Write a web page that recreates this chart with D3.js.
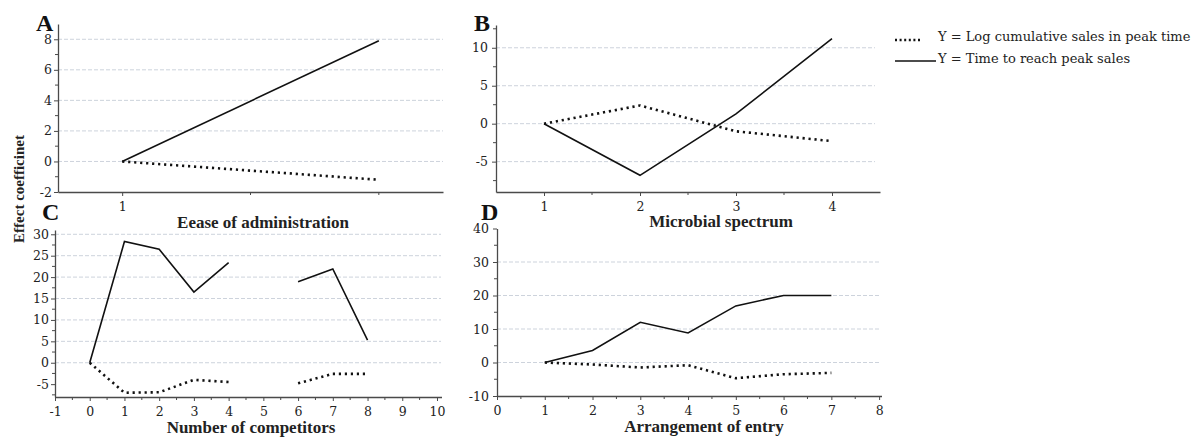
<!DOCTYPE html>
<html><head><meta charset="utf-8">
<script src="https://cdn.jsdelivr.net/npm/d3@7"></script>
<style>
body{margin:0;background:#fff;}
svg{display:block;}
</style></head>
<body>
<svg id="chart" width="1194" height="437"></svg>
<script>
// ---- data ----
const aX = [1, 2];
const aSolid = [0, 7.9];
const aDotted = [0, -1.2];
const aXTicks = [1];
const aYTicks = [-2, 0, 2, 4, 6, 8];

const bX = [1, 2, 3, 4];
const bSolid = [0, -6.8, 1.3, 11.2];
const bDotted = [0, 2.4, -1.0, -2.3];
const bXTicks = [1, 2, 3, 4];
const bYTicks = [-5, 0, 5, 10];

const cX = [0, 1, 2, 3, 4, 5, 6, 7, 8];
const cSolid = [0, 28.3, 26.5, 16.5, 23.4, null, 18.9, 21.9, 5.3];
const cDotted = [0, -7.0, -6.9, -4.0, -4.5, null, -4.8, -2.6, -2.6];
const cXTicks = [-1, 0, 1, 2, 3, 4, 5, 6, 7, 8, 9, 10];
const cYTicks = [-5, 0, 5, 10, 15, 20, 25, 30];

const dX = [1, 2, 3, 4, 5, 6, 7];
const dSolid = [0, 3.6, 12.0, 8.8, 16.9, 20.0, 20.0];
const dDotted = [0, -0.6, -1.5, -0.8, -4.7, -3.5, -3.1];
const dXTicks = [0, 1, 2, 3, 4, 5, 6, 7, 8];
const dYTicks = [-10, 0, 10, 20, 30, 40];

const seriesNames = ["Y = Log cumulative sales in peak time", "Y = Time to reach peak sales"];

const svg = d3.select("#chart");
const AXIS = "#4a4a4a";
const GRID = "#cdd3dc";
const TICKFONT = "'DejaVu Serif', serif";
const TITLEFONT = "'Liberation Serif', serif";

function panel(o) {
  const x = d3.scaleLinear().domain(o.xDomain).range(o.xRange);
  const y = d3.scaleLinear().domain(o.yDomain).range(o.yRange);
  const g = svg.append("g");
  // grid
  g.selectAll(".grid").data(o.grid).join("line")
    .attr("x1", o.xRange[0]).attr("x2", o.gridEnd)
    .attr("y1", d => y(d)).attr("y2", d => y(d))
    .attr("stroke", GRID).attr("stroke-width", 1).attr("stroke-dasharray", "4,2");
  // minor ticks
  g.selectAll(".mx").data(o.xMinor).join("line")
    .attr("x1", d => x(d)).attr("x2", d => x(d))
    .attr("y1", o.yRange[0]).attr("y2", o.yRange[0] + 3)
    .attr("stroke", AXIS);
  g.selectAll(".my").data(o.yMinor).join("line")
    .attr("y1", d => y(d)).attr("y2", d => y(d))
    .attr("x1", o.xRange[0]).attr("x2", o.xRange[0] - 3)
    .attr("stroke", AXIS);
  // axes
  const fmt = d => String(d);
  const xa = g.append("g").attr("transform", `translate(0,${o.yRange[0]})`)
    .call(d3.axisBottom(x).tickValues(o.xTicks).tickSize(4).tickSizeOuter(0).tickPadding(6).tickFormat(fmt));
  const ya = g.append("g").attr("transform", `translate(${o.xRange[0]},0)`)
    .call(d3.axisLeft(y).tickValues(o.yTicks).tickSize(4).tickSizeOuter(0).tickPadding(o.yPad).tickFormat(fmt));
  [xa, ya].forEach(a => {
    a.select(".domain").attr("stroke", AXIS).attr("stroke-width", 1.3);
    a.selectAll(".tick line").attr("stroke", AXIS);
    a.selectAll("text").style("font-family", TICKFONT).style("font-size", "12.5px").attr("fill", "#222");
  });
  // lines
  const line = d3.line().defined(d => d[1] !== null).x(d => x(d[0])).y(d => y(d[1]));
  g.append("path").datum(o.xs.map((v, i) => [v, o.solid[i]]))
    .attr("d", line).attr("fill", "none").attr("stroke", "#111").attr("stroke-width", 1.6);
  g.append("path").datum(o.xs.map((v, i) => [v, o.dotted[i]]))
    .attr("d", line).attr("fill", "none").attr("stroke", "#111").attr("stroke-width", 2.6)
    .attr("stroke-dasharray", "2.2,3.8");
  // panel letter
  g.append("text").attr("x", o.letterX).attr("y", o.letterY).text(o.letter)
    .style("font-family", TITLEFONT).style("font-size", "24px").attr("font-weight", "bold").attr("fill", "#111");
  // title
  g.append("text").attr("x", o.titleX).attr("y", o.titleY).attr("text-anchor", "middle")
    .text(o.title).style("font-family", TITLEFONT).style("font-size", "17px")
    .attr("font-weight", "bold").attr("fill", "#222");
}

panel({
  xs: aX, solid: aSolid, dotted: aDotted,
  xDomain: [0.75, 2.25], xRange: [58, 443], yDomain: [-2, 9], yRange: [192, 24],
  xTicks: aXTicks, yTicks: aYTicks, xMinor: [1.5, 2], yMinor: [-1, 1, 3, 5, 7],
  grid: [0, 2, 4, 6, 8], gridEnd: 443, yPad: 2,
  letter: "A", letterX: 36, letterY: 31,
  title: "Eease of administration", titleX: 263, titleY: 228
});
panel({
  xs: bX, solid: bSolid, dotted: bDotted,
  xDomain: [0.5, 4.5], xRange: [496, 880], yDomain: [-9, 13], yRange: [192, 25],
  xTicks: bXTicks, yTicks: bYTicks, xMinor: [1.5, 2.5, 3.5], yMinor: [-7.5, -2.5, 2.5, 7.5, 12.5],
  grid: [-5, 0, 5, 10], gridEnd: 875, yPad: 4,
  letter: "B", letterX: 474, letterY: 31,
  title: "Microbial spectrum", titleX: 721, titleY: 227
});
panel({
  xs: cX, solid: cSolid, dotted: cDotted,
  xDomain: [-1, 10.13], xRange: [55, 441.5], yDomain: [-8, 31], yRange: [397, 230],
  xTicks: cXTicks, yTicks: cYTicks,
  xMinor: d3.range(-0.5, 10, 1), yMinor: [-7.5, -2.5, 2.5, 7.5, 12.5, 17.5, 22.5, 27.5],
  grid: [0, 5, 10, 15, 20, 25, 30], gridEnd: 441, yPad: 2,
  letter: "C", letterX: 42, letterY: 220,
  title: "Number of competitors", titleX: 251, titleY: 433
});
panel({
  xs: dX, solid: dSolid, dotted: dDotted,
  xDomain: [0, 8.05], xRange: [497, 881.5], yDomain: [-10, 40], yRange: [396, 228.5],
  xTicks: dXTicks, yTicks: dYTicks,
  xMinor: d3.range(0.5, 8, 1), yMinor: [-5, 5, 15, 25, 35],
  grid: [0, 10, 20, 30], gridEnd: 880, yPad: 4,
  letter: "D", letterX: 481, letterY: 220,
  title: "Arrangement of entry", titleX: 704, titleY: 432
});

// y-axis title
svg.append("text").attr("transform", "translate(24,189) rotate(-90)")
  .attr("text-anchor", "middle").style("font-family", TITLEFONT).style("font-size", "15px")
  .attr("font-weight", "bold").attr("fill", "#222").text("Effect coefficinet");

// legend
const leg = svg.append("g");
leg.append("line").attr("x1", 895).attr("x2", 921).attr("y1", 40).attr("y2", 40)
  .attr("stroke", "#111").attr("stroke-width", 2.4).attr("stroke-dasharray", "2,2.6");
leg.append("line").attr("x1", 895).attr("x2", 936).attr("y1", 61).attr("y2", 61)
  .attr("stroke", "#111").attr("stroke-width", 1.6);
leg.selectAll(".lt").data(seriesNames).join("text")
  .attr("x", 938).attr("y", (d, i) => 41 + i * 22).text(d => d)
  .style("font-family", TICKFONT).style("font-size", "13px").attr("fill", "#222");
</script>
</body></html>
